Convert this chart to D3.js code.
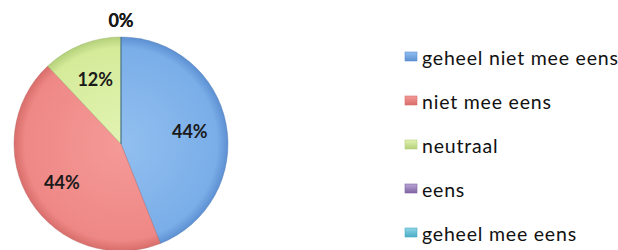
<!DOCTYPE html>
<html><head><meta charset="utf-8">
<script src="https://cdn.jsdelivr.net/npm/d3@7"></script>
<style>body{margin:0;background:#fff}svg{display:block}</style>
</head><body>
<script>
const categories = ["geheel niet mee eens","niet mee eens","neutraal","eens","geheel mee eens"];
const values = [44, 44, 12, 0, 0];
const colorsLight = ["#92bff0","#f59a97","#e2f3b2","#b9a6d6","#8fd6e6"];
const colorsDark  = ["#7aaee8","#ee8886","#d5eb9a","#9580bd","#5bbcd3"];
const edgeColors  = ["#5d90d2","#d86e6b","#b4d07a","#8064a2","#4bacc6"];

const W = 618, H = 250;
const svg = d3.select("body").append("svg").attr("width", W).attr("height", H);
const defs = svg.append("defs");
categories.forEach((c, i) => {
  const g = defs.append("radialGradient").attr("id", "g" + i)
    .attr("gradientUnits", "userSpaceOnUse").attr("cx", 0).attr("cy", 0).attr("r", 107);
  g.append("stop").attr("offset", "0%").attr("stop-color", colorsLight[i]);
  g.append("stop").attr("offset", "90%").attr("stop-color", colorsDark[i]);
  g.append("stop").attr("offset", "100%").attr("stop-color", edgeColors[i]);
  const lg = defs.append("linearGradient").attr("id", "m" + i)
    .attr("x1", 0).attr("y1", 0).attr("x2", 0).attr("y2", 1);
  lg.append("stop").attr("offset", "0%").attr("stop-color", colorsLight[i]);
  lg.append("stop").attr("offset", "100%").attr("stop-color", edgeColors[i]);
});

const R = 107;
const cx = 121, cy = 144;
const pie = d3.pie().sort(null).value(d => d);
const arcs = pie(values);
const arc = d3.arc().innerRadius(0).outerRadius(R);
const labelArc = d3.arc().innerRadius(70).outerRadius(70);
const outerArc = d3.arc().innerRadius(R + 17).outerRadius(R + 17);

const g = svg.append("g").attr("transform", `translate(${cx},${cy})`);
g.selectAll("path").data(arcs).join("path")
  .attr("d", arc)
  .attr("fill", (d, i) => `url(#g${i})`)
  .attr("stroke", (d, i) => d3.color(edgeColors[i]).darker(0.5))
  .attr("stroke-width", 0.8)
  .attr("stroke-opacity", 0.5);

const total = d3.sum(values);
g.selectAll("text").data(arcs).join("text")
  .attr("transform", d => `translate(${(d.value === 0 ? outerArc : labelArc).centroid(d)})`)
  .attr("text-anchor", "middle")
  .attr("dominant-baseline", "central")
  .attr("font-family", "Lato, 'Open Sans', sans-serif")
  .attr("font-weight", 700)
  .attr("font-size", 18)
  .attr("fill", "#1a1a1a")
  .text(d => Math.round(d.value / total * 100) + "%");

const leg = svg.append("g").attr("transform", "translate(405,0)");
const rows = leg.selectAll("g").data(categories).join("g")
  .attr("transform", (d, i) => `translate(0,${57 + i * 44})`);
rows.append("rect").attr("x", 0).attr("y", -5).attr("width", 12).attr("height", 9)
  .attr("fill", (d, i) => `url(#m${i})`)
  .attr("stroke", (d, i) => edgeColors[i]).attr("stroke-width", 0.6);
rows.append("text").attr("x", 17).attr("y", 0)
  .attr("dominant-baseline", "central")
  .attr("font-family", "Lato, 'Open Sans', sans-serif")
  .attr("font-size", 19.5)
  .attr("letter-spacing", 0.8)
  .attr("fill", "#111")
  .text(d => d);
</script>
</body></html>
